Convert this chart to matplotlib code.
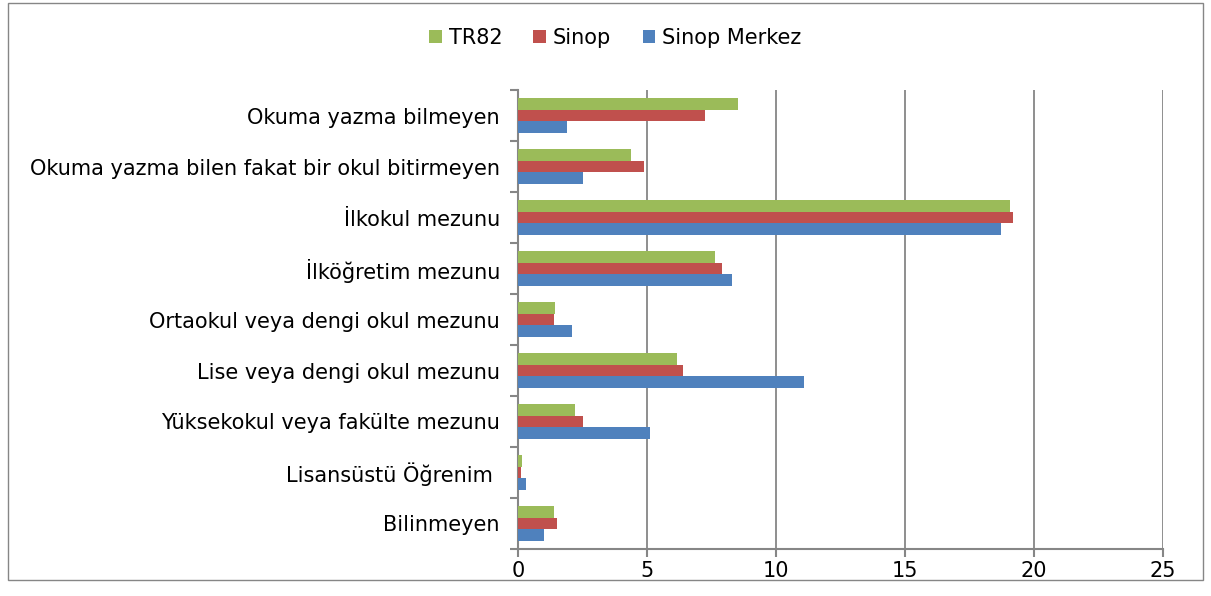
import matplotlib.pyplot as plt
from matplotlib.patches import Rectangle
import numpy as np

plt.rcParams['font.family'] = ['DejaVu Sans']

kategoriler = ['Okuma yazma bilmeyen',
               'Okuma yazma bilen fakat bir okul bitirmeyen',
               'İlkokul mezunu',
               'İlköğretim mezunu',
               'Ortaokul veya dengi okul mezunu',
               'Lise veya dengi okul mezunu',
               'Yüksekokul veya fakülte mezunu',
               'Lisansüstü Öğrenim ',
               'Bilinmeyen']
tr82 = [8.52, 4.38, 19.05, 7.65, 1.42, 6.17, 2.22, 0.14, 1.38]
sinop = [7.24, 4.88, 19.20, 7.91, 1.38, 6.38, 2.53, 0.12, 1.53]
sinop_merkez = [1.89, 2.51, 18.72, 8.30, 2.11, 11.08, 5.11, 0.30, 1.02]

fig = plt.figure(figsize=(12.11, 5.96), dpi=100)
ax = fig.add_axes([0.4277, 0.0789, 0.5327, 0.7700])

y = np.arange(len(kategoriler))
h = 0.224
ax.barh(y - h, tr82, h, color='#9BBB59', label='TR82', zorder=3)
ax.barh(y, sinop, h, color='#C0504D', label='Sinop', zorder=3)
ax.barh(y + h, sinop_merkez, h, color='#4F81BD', label='Sinop Merkez', zorder=3)

ax.set_xlim(0, 25)
ax.set_ylim(len(kategoriler) - 0.5, -0.5)
ax.set_xticks([0, 5, 10, 15, 20, 25])
ax.set_yticks(y)
ax.set_yticklabels(kategoriler, fontsize=15)
ax.set_yticks(np.arange(-0.5, len(kategoriler)), minor=True)
ax.tick_params(axis='y', which='major', length=0, pad=13)
ax.tick_params(axis='y', which='minor', length=6, color='#868686', width=1.5)
ax.tick_params(axis='x', length=6, color='#868686', width=1.5, labelsize=15, pad=3)
ax.grid(axis='x', color='#868686', lw=1.3, zorder=0)
for s in ['top', 'right']:
    ax.spines[s].set_visible(False)
for s in ['left', 'bottom']:
    ax.spines[s].set_color('#868686')
    ax.spines[s].set_linewidth(1.5)

ax.legend(loc='center', bbox_to_anchor=(0.508, 0.936), bbox_transform=fig.transFigure,
          ncol=3, frameon=False, fontsize=15, handlelength=0.6, handleheight=0.6,
          handletextpad=0.34, columnspacing=1.5, borderpad=0)

fig.patches.append(Rectangle((8 / 1211, 1 - 580 / 596), 1195 / 1211, 577 / 596,
                             transform=fig.transFigure, fill=False,
                             edgecolor='#868686', lw=1))

fig.savefig('out.png')
